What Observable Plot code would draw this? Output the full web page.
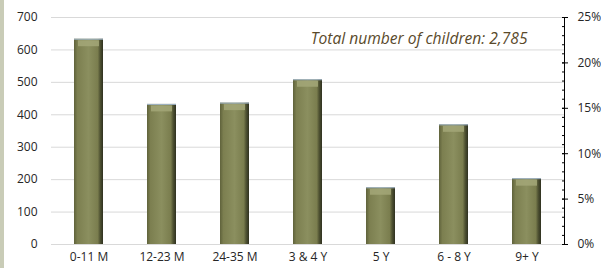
<!DOCTYPE html>
<html>
<head>
<meta charset="utf-8">
<script src="https://cdn.jsdelivr.net/npm/d3@7"></script>
<script src="https://cdn.jsdelivr.net/npm/@observablehq/plot@0.6"></script>
<style>
  html, body { margin: 0; padding: 0; background: #fff; }
  #wrap { position: relative; width: 601px; height: 268px; overflow: hidden; }
  #strip { position: absolute; left: 0; top: 0; width: 4px; height: 268px; background: #c9ccb7; }
</style>
</head>
<body>
<div id="wrap"><div id="strip"></div><div id="chart"></div></div>
<script>
const categories = ["0-11 M", "12-23 M", "24-35 M", "3 & 4 Y", "5 Y", "6 - 8 Y", "9+ Y"];
const counts = [633, 432, 436, 508, 175, 369, 203];
const countTicks = [0, 100, 200, 300, 400, 500, 600, 700];
const percentTicks = [0, 5, 10, 15, 20, 25];
const percentMinor = d3.range(0, 26, 1);
const annotation = "Total number of children: 2,785";

const yMax = 700;
const perPct = yMax / 25;
const data = categories.map((c, i) => ({category: c, count: counts[i]}));

const chart = Plot.plot({
  width: 601,
  height: 268,
  marginLeft: 51,
  marginRight: 37,
  marginTop: 17,
  marginBottom: 24,
  style: {fontFamily: "'Open Sans', sans-serif", fontSize: "12px", color: "#262626", background: "transparent"},
  x: {domain: categories, paddingInner: 0.6, paddingOuter: 0.3, label: null},
  y: {domain: [0, yMax], label: null},
  marks: [
    Plot.gridY(countTicks, {stroke: "#d9d9d9", strokeOpacity: 1, strokeWidth: 1}),
    Plot.axisY(countTicks, {tickSize: 0, tickPadding: 14, label: null, fontSize: 12}),
    Plot.axisX({tickSize: 0, tickPadding: 8, label: null, fontSize: 12}),
    Plot.barY(data, {x: "category", y: "count", fill: "url(#barGrad)"}),
    Plot.tickY(data, {x: "category", y: "count", stroke: "#a3a778", strokeWidth: 6, dy: 4, inset: 4, strokeOpacity: 0.85}),
    Plot.tickY(data, {x: "category", y: "count", stroke: "#9fb4c8", strokeWidth: 1}),
    Plot.frame({anchor: "right", stroke: "#000"}),
    Plot.axisY(percentMinor.map(p => p * perPct), {anchor: "right", tickSize: -3, tickFormat: () => "", stroke: "#000"}),
    Plot.axisY(percentTicks.map(p => p * perPct), {anchor: "right", tickSize: 3, tickPadding: 10, tickFormat: d => Math.round(d / perPct) + "%", fontSize: 12, stroke: "#000"}),
    Plot.axisY(percentTicks.map(p => p * perPct), {anchor: "right", tickSize: -3, tickFormat: () => "", stroke: "#000"}),
    Plot.text([annotation], {frameAnchor: "top-right", dx: -37, dy: 15, fontStyle: "italic", fontSize: 15.6, fill: "#5a4a2b"})
  ]
});

const ns = "http://www.w3.org/2000/svg";
const defs = document.createElementNS(ns, "defs");
defs.innerHTML = `
  <linearGradient id="barGrad" x1="0" x2="1" y1="0" y2="0">
    <stop offset="0" stop-color="#5f623b"/>
    <stop offset="0.12" stop-color="#7c7f50"/>
    <stop offset="0.5" stop-color="#8b8f5f"/>
    <stop offset="0.82" stop-color="#7a7d4e"/>
    <stop offset="0.9" stop-color="#4f5232"/>
    <stop offset="1" stop-color="#2f3120"/>
  </linearGradient>`;
chart.insertBefore(defs, chart.firstChild);
document.getElementById("chart").appendChild(chart);
</script>
</body>
</html>
